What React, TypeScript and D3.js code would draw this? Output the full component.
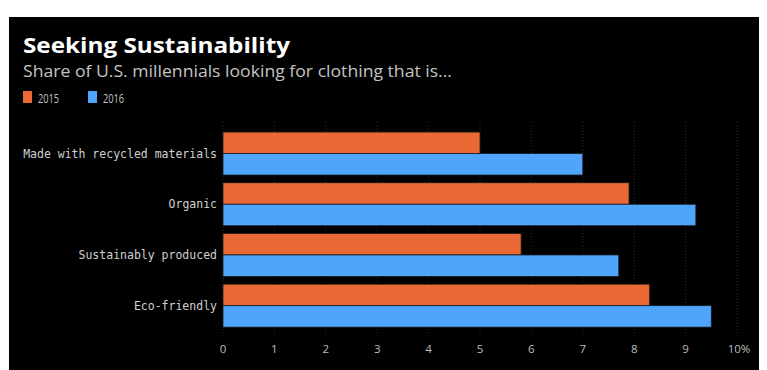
import React from "react";
import * as d3 from "d3";

const categories = ["Made with recycled materials", "Organic", "Sustainably produced", "Eco-friendly"];
const series = ["2015", "2016"];
const values2015 = [5.0, 7.9, 5.8, 8.3];
const values2016 = [7.0, 9.2, 7.7, 9.5];
const ticks = [0, 1, 2, 3, 4, 5, 6, 7, 8, 9, 10];
const colors = ["#ea6935", "#4ea5fb"];

const W = 767;
const H = 370;

export default function App() {
  const x = d3.scaleLinear().domain([0, 10]).range([223, 737]);
  const y = d3
    .scaleBand<string>()
    .domain(categories)
    .range([128.2, 331])
    .paddingInner(0.152)
    .paddingOuter(0.076);
  const sub = d3.scaleBand<string>().domain(series).range([0, y.bandwidth()]);
  const data = [values2015, values2016];

  return (
    <div style={{ position: "absolute", left: 0, top: 0 }}>
      <svg width={W} height={H} style={{ display: "block" }}>
        <rect x={0} y={0} width={W} height={H} fill="#ffffff" />
        <rect x={9} y={17} width={750} height={H - 17} fill="#000000" />
        <text
          x={23}
          y={53}
          fill="#ffffff"
          fontFamily="'Open Sans', sans-serif"
          fontWeight={700}
          fontSize={22}
          textLength={267}
          lengthAdjust="spacingAndGlyphs"
        >
          Seeking Sustainability
        </text>
        <text
          x={23}
          y={77}
          fill="#c4c4c4"
          fontFamily="'Open Sans', sans-serif"
          fontSize={16.5}
          textLength={429}
          lengthAdjust="spacingAndGlyphs"
        >
          Share of U.S. millennials looking for clothing that is...
        </text>
        {series.map((s, i) => (
          <g key={s} transform={`translate(${23 + i * 65},0)`}>
            <rect x={0} y={91} width={9} height={12} fill={colors[i]} />
            <text
              x={15}
              y={103}
              fill="#c4c4c4"
              fontFamily="'Open Sans', sans-serif"
              fontSize={12.5}
              textLength={21}
              lengthAdjust="spacingAndGlyphs"
            >
              {s}
            </text>
          </g>
        ))}
        {ticks.map((t) => (
          <line
            key={"g" + t}
            x1={x(t)}
            x2={x(t)}
            y1={122}
            y2={334}
            stroke="#2a2a2a"
            strokeWidth={1}
            strokeDasharray="1,2"
          />
        ))}
        {categories.map((c, ci) => (
          <g key={c}>
            {series.map((s, si) => (
              <rect
                key={s}
                x={x(0)}
                y={(y(c) as number) + (sub(s) as number)}
                width={x(data[si][ci]) - x(0)}
                height={sub.bandwidth()}
                fill={colors[si]}
                stroke="#1a1a1a"
                strokeWidth={0.8}
              />
            ))}
            <text
              x={217}
              y={(y(c) as number) + y.bandwidth() / 2}
              dy="0.35em"
              textAnchor="end"
              fill="#d0d0d0"
              fontFamily="'DejaVu Sans Mono', monospace"
              fontSize={11.5}
            >
              {c}
            </text>
          </g>
        ))}
        {ticks.map((t) => (
          <text
            key={"t" + t}
            x={t === 10 ? x(t) + 2 : x(t)}
            y={353}
            textAnchor="middle"
            fill="#bdbdbd"
            fontFamily="'Open Sans', sans-serif"
            fontSize={11.5}
          >
            {t === 10 ? "10%" : String(t)}
          </text>
        ))}
      </svg>
    </div>
  );
}
